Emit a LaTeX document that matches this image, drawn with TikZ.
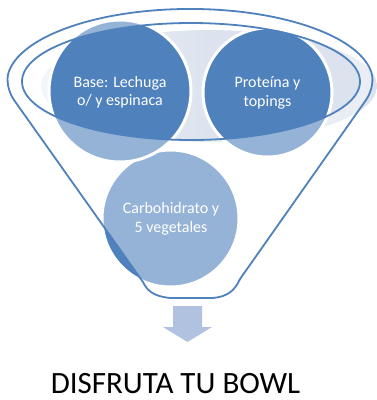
\documentclass[tikz,border=0pt]{standalone}
\usepackage{fontspec}
\setmainfont{Carlito}
\definecolor{fblue}{HTML}{4F81BD}
\definecolor{ghost}{HTML}{DCE3EE}
\definecolor{arrowc}{HTML}{B0C2DF}
\begin{document}
\begin{tikzpicture}[x=1pt,y=-1pt,
  bubble/.style={fill=fblue, draw=white, line width=3pt},
  bubbletext/.style={text=white, align=center, inner sep=0pt, font=\fontsize{16}{18.5}\selectfont},
  rim/.style={draw=fblue, line width=1.8pt},
  overlay/.style={fill=white, fill opacity=0.4, even odd rule}]
\useasboundingbox (0,0) rectangle (377,400);
% soft reflection behind the circles
\shade[left color=ghost!35!white, right color=ghost, middle color=ghost] (209,86) ellipse [x radius=168pt, y radius=56pt];
% circles
\filldraw[bubble] (170.5,218.5) circle [radius=68.5pt];
\filldraw[bubble] (120,91) circle [radius=71pt];
\filldraw[bubble] (267.5,92.5) circle [radius=64.5pt];
% funnel translucent body
\fill[overlay] (14,100) -- (143,282) .. controls (147,290) and (152,296) .. (170,298)
  -- (212,298) .. controls (228,297) and (235,290) .. (240,279)
  -- (366,100) .. controls (372,91) and (374,80) .. (371.2,71.8)
  arc [start angle=8, end angle=172, x radius=183pt, y radius=73pt]
  .. controls (6,80) and (8,91) .. (14,100) -- cycle
  (191,81.5) ellipse [x radius=169pt, y radius=58.5pt];
% funnel outlines
\draw[rim] (14,100) -- (143,282) .. controls (147,290) and (152,296) .. (170,298)
  -- (212,298) .. controls (228,297) and (235,290) .. (240,279)
  -- (366,100) .. controls (372,91) and (374,80) .. (371.2,71.8)
  arc [start angle=8, end angle=172, x radius=183pt, y radius=73pt]
  .. controls (6,80) and (8,91) .. (14,100) -- cycle;
\draw[rim] (191,81.5) ellipse [x radius=169pt, y radius=58.5pt];
% texts
\node[bubbletext] (base) at (120,92) {Base: Lechuga\\o/ y espinaca};
\node[bubbletext] (prot) at (267.5,93) {Proteína y\\topings};
\node[bubbletext] (carb) at (171,219) {Carbohidrato y\\5 vegetales};
% arrow
\fill[arrowc] (173,306) -- (202,306) -- (202,327) -- (212,327) -- (187.5,342)
  -- (163,327) -- (173,327) -- cycle;
% title
\node[anchor=base, inner sep=0pt, font=\fontsize{31}{36}\selectfont] (title) at (175.5,393) {DISFRUTA TU BOWL};
\end{tikzpicture}
\end{document}
